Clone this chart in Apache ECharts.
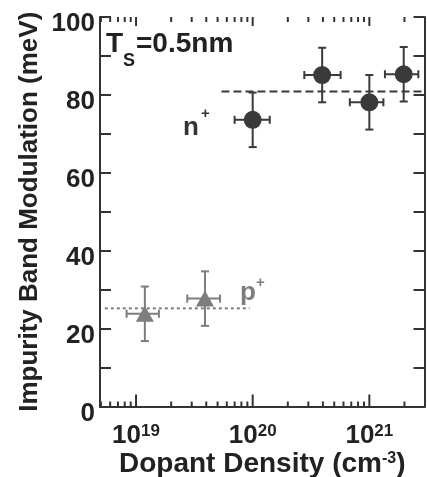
<!DOCTYPE html>
<html><head><meta charset="utf-8">
<script src="https://cdn.jsdelivr.net/npm/echarts@6/dist/echarts.min.js"></script>
<style>html,body{margin:0;padding:0;background:#fff}#c{width:427px;height:477px}</style>
</head><body><div id="c"></div>
<script>
// n+ data (dark circles)
const nX = [1e20, 3.94e20, 1e21, 1.97e21];
const nY = [73.6, 85.1, 78.1, 85.3];
const nYErr = [7, 7, 7, 7];
const nXLow = [0.7e20, 2.77e20, 0.68e21, 1.36e21];
const nXHigh = [1.4e20, 5.67e20, 1.32e21, 2.63e21];
// p+ data (gray triangles)
const pX = [1.19e19, 3.9e19];
const pY = [23.8, 27.7];
const pYErr = [7, 7];
const pXLow = [0.83e19, 2.75e19];
const pXHigh = [1.57e19, 5.25e19];
// guide lines
const nFitX = [5.4e19, 2.97e21];
const nFitY = [80.9, 80.9];
const pFitX = [5.4e18, 9.4e19];
const pFitY = [25.2, 25.2];
// axis ticks
const xMajorTicks = [1e19, 1e20, 1e21];
const xMinorTicks = [5e18, 6e18, 7e18, 8e18, 9e18,
  2e19, 3e19, 4e19, 5e19, 6e19, 7e19, 8e19, 9e19,
  2e20, 3e20, 4e20, 5e20, 6e20, 7e20, 8e20, 9e20, 2e21];
const xRange = [4.91e18, 2.97e21];
const yRange = [0, 100];
const yStep = 10;
const yLabelStep = 20;

const FONT = "'Liberation Sans', Arial, sans-serif";
const DARK = '#3a3a3a';
const GRAY = '#7d7d7d';
const FRAME = '#333333';

function errRender(color) {
  return function (params, api) {
    const x = api.value(0), y = api.value(1), e = api.value(2), xl = api.value(3), xh = api.value(4);
    const top = api.coord([x, y + e]), bot = api.coord([x, y - e]);
    const L = api.coord([xl, y]), R = api.coord([xh, y]);
    const cap = 4;
    const st = { stroke: color, lineWidth: 2 };
    const ln = (x1, y1, x2, y2) => ({ type: 'line', shape: { x1, y1, x2, y2 }, style: st });
    return { type: 'group', children: [
      ln(top[0], top[1], bot[0], bot[1]),
      ln(top[0] - cap, top[1], top[0] + cap, top[1]),
      ln(bot[0] - cap, bot[1], bot[0] + cap, bot[1]),
      ln(L[0], L[1], R[0], R[1]),
      ln(L[0], L[1] - cap, L[0], L[1] + cap),
      ln(R[0], R[1] - cap, R[0], R[1] + cap)
    ]};
  };
}
function tickRender(lenBottom, lenTop) {
  return function (params, api) {
    const v = api.value(0);
    const b = api.coord([v, yRange[0]]), t = api.coord([v, yRange[1]]);
    const st = { stroke: FRAME, lineWidth: 2 };
    return { type: 'group', children: [
      { type: 'line', shape: { x1: b[0], y1: b[1], x2: b[0], y2: b[1] - lenBottom }, style: st },
      { type: 'line', shape: { x1: t[0], y1: t[1], x2: t[0], y2: t[1] + lenTop }, style: st }
    ]};
  };
}

const errN = nX.map((x, i) => [x, nY[i], nYErr[i], nXLow[i], nXHigh[i]]);
const errP = pX.map((x, i) => [x, pY[i], pYErr[i], pXLow[i], pXHigh[i]]);

const chart = echarts.init(document.getElementById('c'), null, { renderer: 'canvas' });
const axisLine = { show: true, lineStyle: { color: FRAME, width: 2 } };
chart.setOption({
  animation: false,
  backgroundColor: '#fff',
  grid: { left: 100, right: 2.5, top: 17, bottom: 70.5, containLabel: false, outerBoundsMode: 'none' },
  xAxis: [{
    type: 'log', logBase: 10, min: xRange[0], max: xRange[1], position: 'bottom',
    axisLine, axisTick: { show: false }, splitLine: { show: false },
    axisLabel: {
      margin: 16,
      formatter: function (v) {
        const l = Math.log10(v);
        if (Math.abs(l - Math.round(l)) < 1e-6) return '{b|10}{s|' + Math.round(l) + '}';
        return '';
      },
      rich: {
        b: { fontSize: 26, fontWeight: 'bold', fontFamily: FONT, color: '#222', verticalAlign: 'bottom' },
        s: { fontSize: 17, fontWeight: 'bold', fontFamily: FONT, color: '#222', verticalAlign: 'top' }
      }
    },
    name: '{t|Dopant Density (cm}{s|-3}{t|)}', nameLocation: 'middle', nameGap: 44, nameMoveOverlap: false,
    nameTextStyle: {
      rich: {
        t: { fontSize: 28, fontWeight: 'bold', fontFamily: FONT, color: '#222', verticalAlign: 'bottom' },
        s: { fontSize: 16, fontWeight: 'bold', fontFamily: FONT, color: '#222', verticalAlign: 'top' }
      }
    }
  }, {
    type: 'log', logBase: 10, min: xRange[0], max: xRange[1], position: 'top',
    axisLine, axisTick: { show: false }, axisLabel: { show: false }, splitLine: { show: false }
  }],
  yAxis: [{
    type: 'value', min: yRange[0], max: yRange[1], interval: yStep, position: 'left',
    axisLine, splitLine: { show: false },
    axisTick: { show: true, inside: true, length: 11, lineStyle: { color: FRAME, width: 2 } },
    axisLabel: {
      margin: 5, verticalAlign: 'top', lineHeight: 14,
      fontSize: 26, fontWeight: 'bold', fontFamily: FONT, color: '#222',
      formatter: v => (v % yLabelStep === 0 ? String(v) : '')
    },
    name: 'Impurity Band Modulation (meV)', nameLocation: 'middle', nameGap: 57, nameMoveOverlap: false,
    nameTextStyle: { fontSize: 26, fontWeight: 'bold', fontFamily: FONT, color: '#222' }
  }, {
    type: 'value', min: yRange[0], max: yRange[1], interval: yStep, position: 'right',
    axisLine, splitLine: { show: false }, axisLabel: { show: false },
    axisTick: { show: true, inside: true, length: 11, lineStyle: { color: FRAME, width: 2 } }
  }],
  series: [
    { type: 'custom', xAxisIndex: 0, yAxisIndex: 0, data: xMajorTicks.map(v => [v, 0]),
      renderItem: tickRender(12, 9), silent: true, z: 1 },
    { type: 'custom', xAxisIndex: 0, yAxisIndex: 0, data: xMinorTicks.map(v => [v, 0]),
      renderItem: tickRender(5, 5), silent: true, z: 1 },
    { type: 'line', data: nFitX.map((x, i) => [x, nFitY[i]]), symbol: 'none',
      lineStyle: { color: DARK, width: 2, type: [8, 4] }, z: 2 },
    { type: 'line', data: pFitX.map((x, i) => [x, pFitY[i]]), symbol: 'none',
      lineStyle: { color: GRAY, width: 2, type: [3, 3] }, z: 2 },
    { type: 'custom', data: errN, renderItem: errRender(DARK), z: 3 },
    { type: 'custom', data: errP, renderItem: errRender(GRAY), z: 3 },
    { type: 'scatter', data: nX.map((x, i) => [x, nY[i]]), symbol: 'circle', symbolSize: 18,
      itemStyle: { color: DARK, opacity: 1 }, z: 4 },
    { type: 'scatter', data: pX.map((x, i) => [x, pY[i]]), symbol: 'triangle', symbolSize: [18, 16],
      itemStyle: { color: GRAY, opacity: 1 }, z: 4 }
  ],
  graphic: [
    { type: 'text', left: 106, top: 30, style: { text: 'T', font: 'bold 28px ' + FONT, fill: '#222' } },
    { type: 'text', left: 123, top: 52, style: { text: 'S', font: 'bold 18px ' + FONT, fill: '#222' } },
    { type: 'text', left: 136, top: 30, style: { text: '=0.5nm', font: 'bold 28px ' + FONT, fill: '#222' } },
    { type: 'text', left: 183, top: 115, style: { text: 'n', font: 'bold 26px ' + FONT, fill: '#333' } },
    { type: 'text', left: 201, top: 106, style: { text: '+', font: 'bold 15px ' + FONT, fill: '#333' } },
    { type: 'text', left: 240, top: 280, style: { text: 'p', font: 'bold 26px ' + FONT, fill: GRAY } },
    { type: 'text', left: 256, top: 275, style: { text: '+', font: 'bold 15px ' + FONT, fill: GRAY } }
  ]
});
</script></body></html>
